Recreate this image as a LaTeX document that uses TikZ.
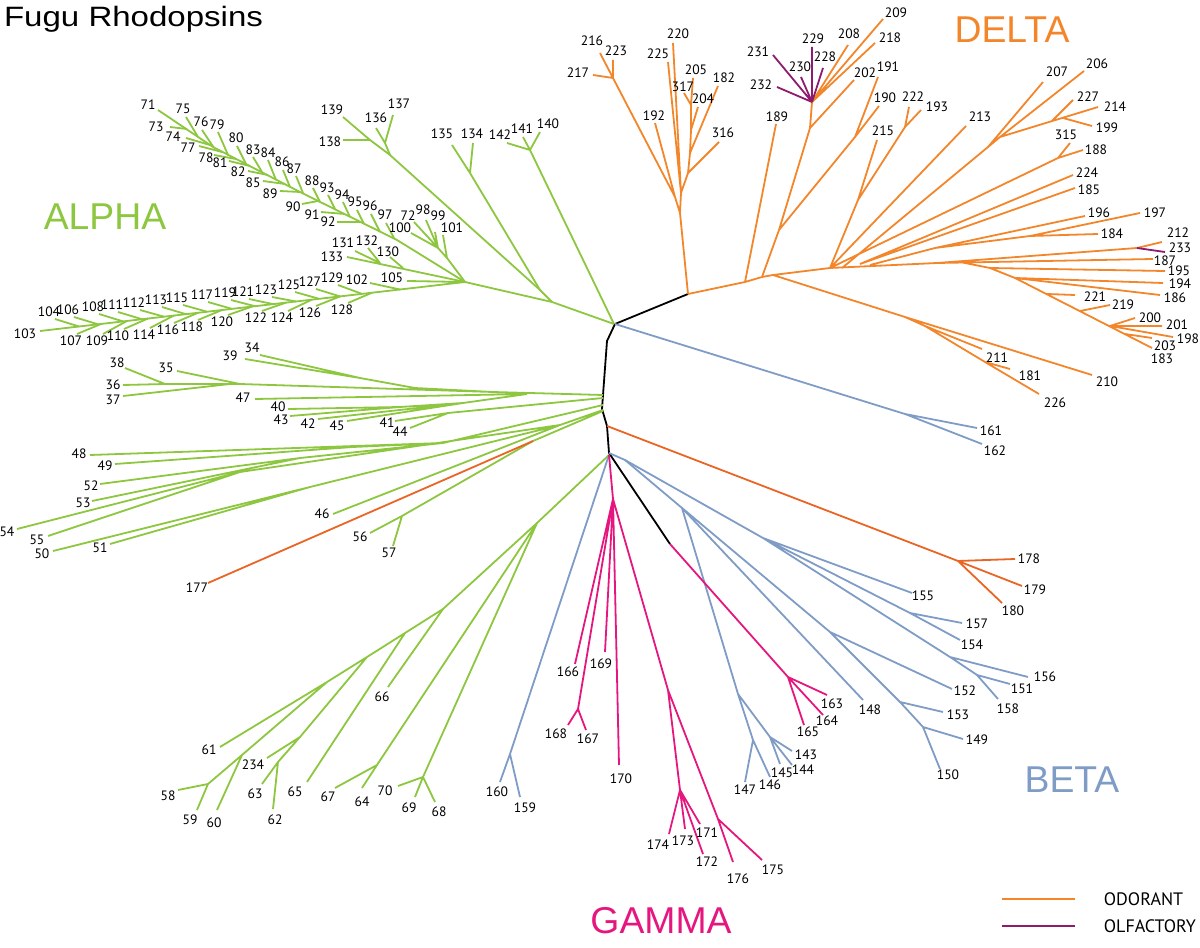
\documentclass[tikz,border=0pt]{standalone}
\usepackage{fontspec}
\setmainfont{PT Sans}
\newfontfamily\hfont{Liberation Sans}
\definecolor{cA}{HTML}{8DC63F}
\definecolor{cB}{HTML}{7F9CC6}
\definecolor{cG}{HTML}{E5177E}
\definecolor{cD}{HTML}{F3862A}
\definecolor{cO}{HTML}{EA6424}
\definecolor{cP}{HTML}{8E1B6E}
\begin{document}
\begin{tikzpicture}[x=0.75pt,y=-0.75pt,line width=1.35pt,line join=round,
  lbl/.style={font=\fontsize{10.2}{11}\selectfont,inner sep=0pt},
  grp/.style={font=\hfont\fontsize{28}{30}\selectfont,inner sep=0pt},
  ga/.style={draw=cA}, bt/.style={draw=cB}, gm/.style={draw=cG},
  dl/.style={draw=cD}, od/.style={draw=cO}, pu/.style={draw=cP}, bk/.style={draw=black}]
\useasboundingbox (0,0) rectangle (1200,948);

% titles
\node[anchor=west,inner sep=0pt,font=\hfont\fontsize{21}{24}\selectfont,xscale=1.18] (title) at (3,19) {Fugu Rhodopsins};
\node[grp,text=cA] (alpha) at (105,217) {ALPHA};
\node[grp,text=cD] (delta) at (1012,30) {DELTA};
\node[grp,text=cB] (beta) at (1072,780) {BETA};
\node[grp,text=cG] (gamma) at (661,921) {GAMMA};

% backbone
\draw[bk] (688,294) -- (615,324) -- (607,341) -- (603,395) -- (602,409) -- (607,426) -- (609,453) -- (670,544);

% ---------------- ALPHA upper
\draw[ga] (614,324)--(552,302)--(465,282);
\draw[ga] (552,302)--(540,290)--(390,155)--(370,140)--(343,117);
\draw[ga] (343,140)--(370,140) (390,155)--(385,143)--(393,115) (385,143)--(376,128);
\draw[ga] (540,290)--(470,173)--(452,145) (470,173)--(473,143);
\draw[ga] (614,324)--(530,150)--(540,132) (530,150)--(523,137) (530,150)--(507,143);
% herringbone 71-97
\draw[ga] (158,110)--(213,147)--(300,192)--(397,240)--(465,282);
\draw[ga] (186,117)--(198,137) (202,130)--(214,148) (218,132)--(228,155) (237,146)--(246,164)
 (253,157)--(262,172) (268,160)--(276,180) (283,170)--(290,187) (296,176)--(303,193)
 (313,188)--(320,202) (328,195)--(335,209) (343,202)--(350,217) (357,210)--(364,224)
 (371,214)--(380,232) (386,223)--(394,238);
\draw[ga] (170,127)--(187,129) (186,138)--(210,145) (199,146)--(222,152) (214,155)--(236,159)
 (229,161)--(250,166) (248,171)--(268,175) (263,181)--(285,184) (280,191)--(300,192)
 (302,204)--(318,201) (321,212)--(345,214) (337,222)--(360,222);
% 72-101
\draw[ga] (465,282)--(447,258)--(443,235) (447,258)--(438,248)--(435,232) (438,248)--(426,220)
 (438,248)--(414,222) (438,248)--(411,233);
% 130-133
\draw[ga] (347,257)--(465,282) (355,251)--(380,263) (368,248)--(380,263) (390,257)--(403,268);
% chain 103-129
\draw[ga] (40,331)--(465,282) (407,281)--(465,282);
\draw[ga] (55,319)--(79,326.5) (74,317)--(98,324.3) (99,314)--(123,321.4) (118,312)--(142,319.2)
 (140,310)--(164,316.7) (162,307)--(186,314.2) (183,305)--(207,311.7) (208,302)--(232,308.9)
 (231,300)--(255,306.2) (249,299)--(273,304.1) (272,297)--(296,301.5) (295,292)--(319,298.8)
 (316,289)--(340,296.4) (338,285)--(362,293.9) (370,283)--(400,289.5);
\draw[ga] (77,334)--(101,324) (103,334)--(127,321) (124,329)--(148,318.5) (150,328)--(174,315.5)
 (174,323)--(198,312.8) (198,320)--(222,310) (228,315)--(252,306.6) (262,311)--(286,302.6)
 (288,311)--(312,299.6) (316,306)--(340,296.4) (348,303)--(372,292.7);

% ---------------- ALPHA middle
\draw[ga] (125,368)--(165,384) (123,385)--(165,384)--(230,384)--(240,384)--(493,392)--(603,395)
 (123,396)--(230,384) (177,371)--(240,384)
 (245,359)--(360,378) (260,355)--(360,378)--(415,388)--(493,392)
 (255,399)--(527,394)
 (288,409)--(400,407) (290,416)--(400,407)--(463,403)--(527,394) (318,419)--(463,403) (347,421)--(463,403)
 (395,421)--(448,413) (410,428)--(448,413)--(603,398);
% ALPHA lower
\draw[ga] (90,455)--(443,443) (115,464)--(353,447)--(443,443) (100,484)--(300,458) (92,501)--(300,458)--(443,443)
 (443,443)--(603,405)
 (17,529)--(240,472) (48,536)--(240,472)--(560,425) (53,551)--(310,487) (110,544)--(310,487)--(560,425)
 (333,514)--(560,425)--(603,410)
 (370,533)--(402,516) (393,546)--(402,516)--(533,441)--(603,411);
\draw[od] (208,583)--(533,441);
% ALPHA bottom
\draw[ga] (609,455)--(537,523)--(443,609)--(405,633)--(367,657)--(327,682)--(220,747)
 (327,682)--(242,755)--(217,810) (242,755)--(208,784)--(178,790) (208,784)--(197,810)
 (367,657)--(300,737)--(267,758) (300,737)--(278,762)--(262,784) (278,762)--(273,809)
 (405,633)--(307,782) (443,609)--(388,687)
 (537,523)--(377,765)--(335,788) (377,765)--(362,788)
 (537,523)--(423,777)--(398,786) (423,777)--(415,797) (423,777)--(435,802);

% ---------------- BETA
\draw[bt] (609,455)--(510,754)--(500,782) (510,754)--(520,797);
\draw[bt] (615,324)--(905,414)--(977,428) (905,414)--(982,444);
\draw[bt] (609,453)--(625,460)--(682,508)--(863,700) (682,508)--(738,694)
 (738,694)--(753,740)--(745,782) (753,740)--(770,777)
 (738,694)--(770,737)--(792,751) (770,737)--(792,765) (770,737)--(780,764)
 (682,508)--(830,632)--(952,689) (830,632)--(900,702)--(943,712) (900,702)--(923,727)--(963,739) (923,727)--(940,769);
\draw[bt] (625,460)--(763,538)--(912,593) (763,538)--(910,613)--(962,623) (910,613)--(960,640)
 (763,538)--(950,657)--(1028,677) (950,657)--(977,675)--(1010,684) (977,675)--(998,699);
% orange 178-180
\draw[od] (607,426)--(958,561)--(1015,559) (958,561)--(1022,586) (958,561)--(1002,603);

% ---------------- GAMMA
\draw[gm] (609,455)--(613,499)--(575,664) (613,499)--(578,709)--(568,725) (578,709)--(586,730)
 (613,499)--(605,652) (613,499)--(619,765)
 (613,499)--(668,690)--(680,790)--(669,834) (680,790)--(685,829) (680,790)--(703,854) (680,790)--(700,824)
 (668,690)--(718,819)--(733,862) (718,819)--(762,860)
 (670,544)--(788,677)--(827,695) (788,677)--(823,715) (788,677)--(804,725);

% ---------------- DELTA
\draw[dl] (688,294)--(680,213)--(675,197)--(655,123) (675,197)--(613,78)--(600,53) (613,78)--(613,60) (613,78)--(593,75)
 (680,213)--(681,193)--(673,43) (681,193)--(668,62)
 (681,193)--(688,173)--(719,142) (688,173)--(690,153)--(718,86) (690,153)--(691,130)--(698,107)
 (691,130)--(691,105)--(693,78) (691,105)--(684,93);
\draw[dl] (688,294)--(745,282)--(776,124) (745,282)--(762,277)--(779,230)--(810,128)--(812,102)
 (810,128)--(854,80) (779,230)--(855,137)--(878,77) (855,137)--(879,106)
 (812,102)--(848,45) (812,102)--(883,19) (812,102)--(875,43);
\draw[pu] (812,102)--(773,55) (812,102)--(777,87) (812,102)--(801,77) (812,102)--(812,47) (812,102)--(823,68);
\draw[dl] (762,277)--(773,275)--(830,268)--(937,263)--(1153,259)
 (773,275)--(905,317)--(1092,375) (905,317)--(925,326)--(982,349) (925,326)--(985,362)--(1039,394) (985,362)--(1010,369)
 (830,268)--(858,200)--(877,140) (858,200)--(905,127)--(909,107) (905,127)--(921,110)
 (830,268)--(966,126)
 (842,268)--(988,147)--(1043,82) (988,147)--(1000,137)--(1084,71) (1000,137)--(1098,107) (1052,121)--(1073,100) (1063,118)--(1092,126)
 (830,268)--(1058,158)--(1083,150) (1058,158)--(1070,143)
 (860,264)--(1073,175) (860,264)--(1075,188)
 (870,265)--(935,248)--(1085,216) (935,248)--(1030,236)--(1140,213) (1030,236)--(1098,234)
 (937,263)--(1137,248)--(1162,242)
 (960,262)--(990,268)--(1165,271) (990,268)--(1015,278)--(1163,283) (1015,278)--(1160,295)
 (1015,278)--(1152,348) (1047,294)--(1075,295) (1080,311)--(1110,305)
 (1110,326)--(1135,318) (1110,326)--(1162,326) (1110,326)--(1173,337) (1125,334)--(1152,338);
\draw[pu] (1137,248)--(1165,252);

% ---------------- labels
\foreach \x/\y/\t in {148/105/71,183/109/75,156/127/73,201/122/76,217/125/79,173/137/74,188/148/77,236/138/80,
 253/150/83,268/153/84,206/158/78,220/163/81,282/162/86,294/169/87,238/172/82,253/183/85,312/181/88,270/194/89,
 327/188/93,342/195/94,293/207/90,355/202/95,370/206/96,312/215/91,385/215/97,328/222/92,408/216/72,423/210/98,
 438/216/99,452/228/101,400/228/100,332/257/133,343/243/131,367/241/132,388/252/130,332/110/139,330/142/138,
 376/118/136,399/104/137,442/134/135,472/134/134,500/135/142,522/129/141,548/124/140,
 49/312/104,68/310/106,93/307/108,112/305/111,134/303/112,156/300/113,177/298/115,202/295/117,225/293/119,
 243/292/121,266/290/123,289/285/125,310/282/127,332/278/129,357/280/102,392/278/105,25/334/103,71/341/107,
 97/341/109,118/336/110,144/335/114,168/330/116,192/327/118,222/322/120,256/318/122,282/318/124,310/313/126,342/310/128,
 117/363/38,166/368/35,113/385/36,113/400/37,230/356/39,252/348/34,243/398/47,278/407/40,281/420/43,308/424/42,
 337/426/45,387/423/41,400/432/44,79/454/48,105/466/49,91/486/52,83/503/53,7/532/54,37/540/55,42/554/50,100/548/51,
 197/588/177,322/514/46,360/537/56,389/553/57,209/750/61,253/765/234,168/796/58,190/820/59,214/823/60,255/794/63,
 275/820/62,295/792/65,382/697/66,328/797/67,362/802/64,385/791/70,409/808/69,439/812/68,
 497/792/160,525/808/159,568/672/166,556/734/168,588/739/167,601/664/169,621/779/170,658/845/174,683/841/173,
 707/862/172,707/833/171,738/879/176,773/870/175,832/704/163,827/721/164,808/732/165,
 870/710/148,745/790/147,770/785/146,782/773/145,803/770/144,806/755/143,923/596/155,977/624/157,972/645/154,
 1045/677/156,1022/689/151,1008/709/158,965/691/152,958/715/153,977/740/149,948/775/150,991/431/161,995/451/162,
 1029/559/178,1035/590/179,1013/611/180,
 592/41/216,616/51/223,578/73/217,654/116/192,678/34/220,658/54/225,696/70/205,683/87/317,703/99/204,724/78/182,
 723/133/316,777/117/189,758/52/231,761/85/232,800/67/230,813/39/229,825/57/228,849/34/208,896/13/209,890/38/218,
 865/73/202,888/67/191,885/98/190,883/131/215,913/97/222,937/107/193,980/117/213,1057/72/207,1097/64/206,
 1088/97/227,1115/107/214,1107/128/199,1066/135/315,1096/150/188,1087/173/224,1089/190/185,1099/213/196,
 1155/213/197,1112/234/184,1178/233/212,1180/248/233,1165/261/187,1179/271/195,1180/284/194,1175/298/186,
 1095/297/221,1123/305/219,1150/318/200,1177/325/201,1188/339/198,1165/346/203,1162/359/183,997/358/211,
 1030/376/181,1055/403/226,1107/382/210}
 {\node[lbl] (L\t) at (\x,\y) {\t};}

% legend
\draw[dl,line width=2.2pt] (1002,899) -- (1075,899);
\draw[pu,line width=2.2pt] (1002,926) -- (1075,926);
\node[anchor=west,inner sep=0pt,font=\fontsize{13.5}{15}\selectfont] (odor) at (1103,899) {ODORANT};
\node[anchor=west,inner sep=0pt,font=\fontsize{13.5}{15}\selectfont] (olf) at (1103,926) {OLFACTORY};
\end{tikzpicture}
\end{document}
